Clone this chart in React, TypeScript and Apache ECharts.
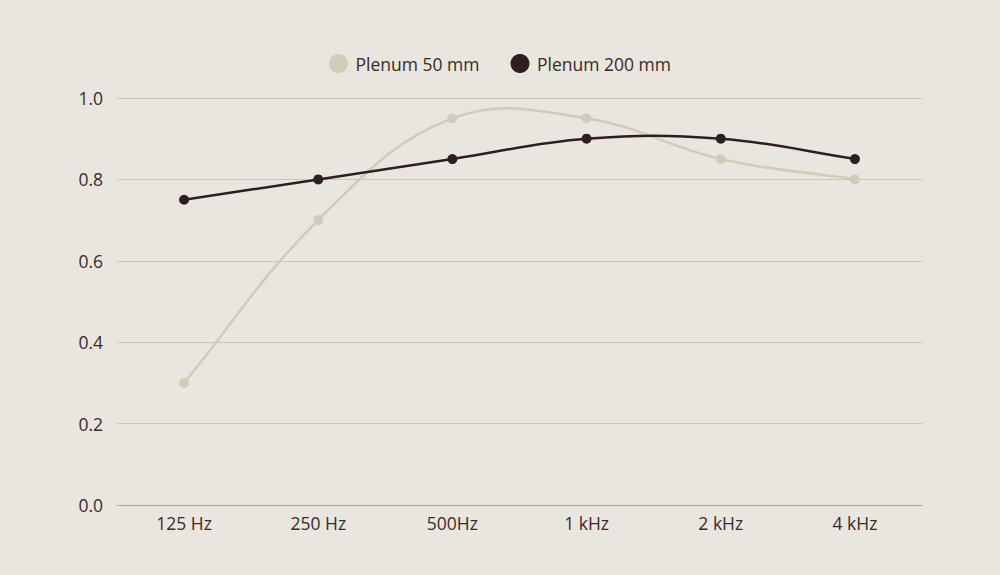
import React, { useEffect, useRef } from "react";
import * as echarts from "echarts";

const categories = ["125 Hz", "250 Hz", "500Hz", "1 kHz", "2 kHz", "4 kHz"];
const plenum50 = [0.3, 0.7, 0.95, 0.95, 0.85, 0.8];
const plenum200 = [0.75, 0.8, 0.85, 0.9, 0.9, 0.85];

const LIGHT = "#d1cbb8";
const DARK = "#2f1e1f";
const BG = "#e9e6df";
const TEXT = "#3a2a2a";

function splinePath(pts: number[][], tension: number): string {
  const n = pts.length;
  const cps: { a: number[]; b: number[] }[] = [];
  for (let i = 0; i < n; i++) {
    const p0 = pts[Math.max(0, i - 1)];
    const p1 = pts[i];
    const p2 = pts[Math.min(n - 1, i + 1)];
    const d01 = Math.hypot(p1[0] - p0[0], p1[1] - p0[1]);
    const d12 = Math.hypot(p2[0] - p1[0], p2[1] - p1[1]);
    let s01 = d01 / (d01 + d12);
    let s12 = d12 / (d01 + d12);
    if (!isFinite(s01)) s01 = 0;
    if (!isFinite(s12)) s12 = 0;
    const fa = tension * s01;
    const fb = tension * s12;
    cps.push({
      a: [p1[0] - fa * (p2[0] - p0[0]), p1[1] - fa * (p2[1] - p0[1])],
      b: [p1[0] + fb * (p2[0] - p0[0]), p1[1] + fb * (p2[1] - p0[1])],
    });
  }
  let d = `M${pts[0][0]},${pts[0][1]}`;
  for (let i = 1; i < n; i++) {
    const c1 = cps[i - 1].b;
    const c2 = cps[i].a;
    d += ` C${c1[0]},${c1[1]} ${c2[0]},${c2[1]} ${pts[i][0]},${pts[i][1]}`;
  }
  return d;
}

function curveSeries(values: number[], color: string) {
  return {
    type: "custom",
    data: values.map((v, i) => [i, v]),
    z: 1,
    silent: true,
    renderItem: (params: any, api: any) => {
      if (params.dataIndex !== 0) return null;
      const pts = values.map((v, i) => api.coord([i, v]));
      return {
        type: "path",
        shape: { pathData: splinePath(pts, 0.4) },
        style: { fill: "none", stroke: color, lineWidth: 2.5 },
      };
    },
  };
}

export default function App() {
  const ref = useRef<HTMLDivElement>(null);
  useEffect(() => {
    document.body.style.margin = "0";
    document.body.style.background = BG;
    const chart = echarts.init(ref.current!, null, { renderer: "svg" });
    const font = "Open Sans";
    chart.setOption({
      animation: false,
      backgroundColor: BG,
      textStyle: { fontFamily: font },
      legend: {
        top: 49,
        left: "center",
        icon: "circle",
        itemWidth: 24,
        itemHeight: 19,
        itemGap: 31,
        textStyle: { fontSize: 17.5, color: TEXT, fontFamily: font },
        data: ["Plenum 50 mm", "Plenum 200 mm"],
      },
      grid: { left: 117, right: 78, top: 98, bottom: 70 },
      xAxis: {
        type: "category",
        data: categories,
        boundaryGap: true,
        axisLine: { lineStyle: { color: "#aaa69f" } },
        axisTick: { show: false },
        axisLabel: { fontSize: 17.5, color: TEXT, margin: 9, fontFamily: font },
      },
      yAxis: {
        type: "value",
        min: 0,
        max: 1,
        interval: 0.2,
        axisLabel: {
          fontSize: 17.5,
          color: TEXT,
          margin: 14,
          fontFamily: font,
          formatter: (v: number) => v.toFixed(1),
        },
        splitLine: { lineStyle: { color: "#cbc6bc" } },
        axisLine: { show: false },
        axisTick: { show: false },
      },
      series: [
        curveSeries(plenum50, LIGHT),
        curveSeries(plenum200, DARK),
        {
          name: "Plenum 50 mm",
          type: "line",
          data: plenum50,
          symbol: "circle",
          symbolSize: 10,
          z: 3,
          color: LIGHT,
          lineStyle: { width: 0, opacity: 0, color: LIGHT },
          itemStyle: { color: LIGHT },
        },
        {
          name: "Plenum 200 mm",
          type: "line",
          data: plenum200,
          symbol: "circle",
          symbolSize: 10,
          z: 4,
          color: DARK,
          lineStyle: { width: 0, opacity: 0, color: DARK },
          itemStyle: { color: DARK },
        },
      ],
    });
    return () => chart.dispose();
  }, []);
  return <div ref={ref} style={{ width: 1000, height: 575 }} />;
}
